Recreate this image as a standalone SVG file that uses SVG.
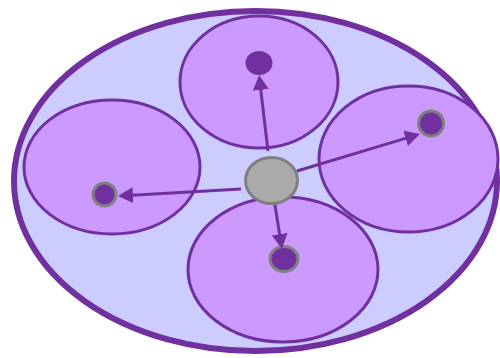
<svg xmlns="http://www.w3.org/2000/svg" width="500" height="358" viewBox="0 0 500 358">
  <defs>
    <style>
      .outer { fill: #ccccff; stroke: #7030a0; stroke-width: 6; }
      .region { fill: #cc99ff; stroke: #7030a0; stroke-width: 3; }
      .dot { fill: #7030a0; stroke: #808080; stroke-width: 3; }
      .hub { fill: #aaaaaa; stroke: #7f7f7f; stroke-width: 3; }
      .conn { stroke: #7030a0; stroke-width: 3; fill: none; marker-end: url(#arrow); }
    </style>
    <marker id="arrow" markerUnits="userSpaceOnUse" markerWidth="15" markerHeight="16" viewBox="0 0 15 16" refX="5" refY="8" orient="auto">
      <path d="M0,0 L15,8 L0,16 z" fill="#7030a0"/>
    </marker>
  </defs>
  <g id="outer">
    <ellipse class="outer" cx="255.5" cy="181" rx="241.5" ry="170"/>
  </g>
  <g id="region-top">
    <ellipse class="region" cx="259" cy="82" rx="79" ry="66"/>
  </g>
  <g id="region-left">
    <ellipse class="region" cx="112" cy="167" rx="88" ry="67"/>
  </g>
  <g id="region-right">
    <ellipse class="region" cx="408.5" cy="159" rx="89.5" ry="73"/>
  </g>
  <g id="region-bottom">
    <ellipse class="region" cx="283" cy="269.5" rx="95" ry="72.5"/>
  </g>
  <g id="dot-top">
    <ellipse cx="259" cy="63" rx="13.5" ry="12" fill="#7030a0"/>
  </g>
  <g id="dot-left">
    <circle class="dot" cx="104.5" cy="194.5" r="11.5"/>
  </g>
  <g id="dot-right">
    <circle class="dot" cx="431" cy="123.5" r="12.5"/>
  </g>
  <g id="dot-bottom">
    <ellipse class="dot" cx="284" cy="259" rx="14" ry="12.5"/>
  </g>
  <g id="connectors">
    <line class="conn" x1="268" y1="151" x2="260.2" y2="84.9"/>
    <line class="conn" x1="297" y1="171" x2="410.4" y2="136.9"/>
    <line class="conn" x1="274" y1="199" x2="280.4" y2="239.1"/>
    <line class="conn" x1="241" y1="189" x2="128" y2="195.4"/>
  </g>
  <g id="hub">
    <ellipse class="hub" cx="271.5" cy="180.5" rx="26" ry="23"/>
  </g>
</svg>
